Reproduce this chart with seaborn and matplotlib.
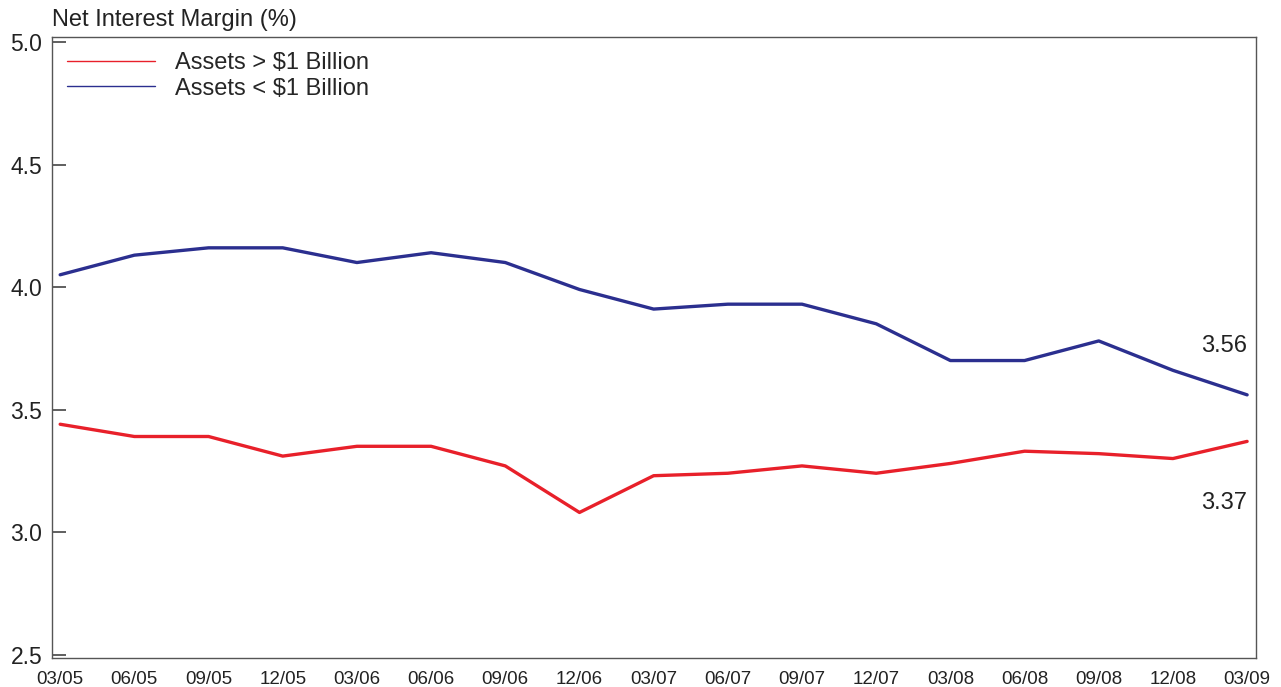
import numpy as np
import pandas as pd
import matplotlib
matplotlib.use("Agg")
import matplotlib.pyplot as plt
from matplotlib.lines import Line2D
import seaborn as sns

quarters = ["03/05", "06/05", "09/05", "12/05", "03/06", "06/06", "09/06", "12/06",
            "03/07", "06/07", "09/07", "12/07", "03/08", "06/08", "09/08", "12/08", "03/09"]
big_banks = [3.44, 3.39, 3.39, 3.31, 3.35, 3.35, 3.27, 3.08,
             3.23, 3.24, 3.27, 3.24, 3.28, 3.33, 3.32, 3.30, 3.37]
small_banks = [4.05, 4.13, 4.16, 4.16, 4.10, 4.14, 4.10, 3.99,
               3.91, 3.93, 3.93, 3.85, 3.70, 3.70, 3.78, 3.66, 3.56]
series_names = ["Assets > $1 Billion", "Assets < $1 Billion"]
colors = ["#E8202A", "#2B2F8F"]

df = pd.DataFrame({
    "q": list(range(len(quarters))) * 2,
    "nim": big_banks + small_banks,
    "group": [series_names[0]] * len(quarters) + [series_names[1]] * len(quarters),
})

sns.set_style("white")
plt.rcParams["font.family"] = ["Liberation Sans", "DejaVu Sans"]

fig = plt.figure(figsize=(12.81, 6.87), dpi=100)
ax = fig.add_axes([0.0406, 0.0422, 0.9399, 0.9038])

sns.lineplot(data=df, x="q", y="nim", hue="group", palette=colors,
             linewidth=2.4, legend=False, ax=ax)

ax.set_xlim(-0.11, 16.12)
ax.set_ylim(2.486, 5.02)
ax.set_xticks(range(len(quarters)))
ax.set_xticklabels(quarters)
ax.set_yticks([2.5, 3.0, 3.5, 4.0, 4.5, 5.0])
ax.set_yticklabels(["2.5", "3.0", "3.5", "4.0", "4.5", "5.0"])
ax.set_xlabel("")
ax.set_ylabel("")
ax.tick_params(axis="y", left=True, direction="in", length=10, width=1.2,
               color="#444444", labelsize=16.5, pad=7, labelcolor="#222222")
ax.tick_params(axis="x", bottom=False, length=0, labelsize=13.5, pad=9,
               labelcolor="#222222")
for s in ax.spines.values():
    s.set_color("#555555")
    s.set_linewidth(1)

fig.text(0.0406, 0.971, "Net Interest Margin (%)", fontsize=17, color="#222222",
         ha="left", va="center")

# end-of-line value labels
ax.text(16.0, big_banks[-1] - 0.25, f"{big_banks[-1]:.2f}", fontsize=17,
        ha="right", va="center", color="#222222")
ax.text(16.0, small_banks[-1] + 0.20, f"{small_banks[-1]:.2f}", fontsize=17,
        ha="right", va="center", color="#222222")

handles = [Line2D([], [], color=c, linewidth=1) for c in colors]
ax.legend(handles, series_names, loc="upper left", frameon=False, fontsize=17,
          handlelength=3.7, handletextpad=0.85, labelspacing=0.14,
          borderaxespad=0.25, bbox_to_anchor=(0.0, 1.0))

fig.savefig("out.png", dpi=100)
